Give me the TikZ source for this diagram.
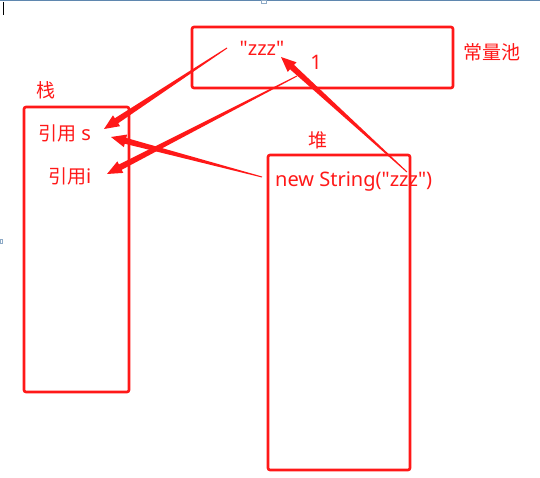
\documentclass[tikz,border=0pt]{standalone}
\usepackage{fontspec}
\setmainfont{Noto Sans}[Ligatures=TeXOff]
\newfontfamily\cjk{Noto Sans CJK SC}
\usetikzlibrary{calc}
\definecolor{pr}{RGB}{255,24,24}
\definecolor{frame}{RGB}{95,135,175}
\tikzset{
  box/.style={draw=pr,line width=2.6pt,rounded corners=2pt},
  lbl/.style={text=pr,inner sep=0pt,font=\fontsize{20}{22}\selectfont},
  arr/.style={fill=pr,draw=none}
}
\newcommand{\tarrow}[2]{%
  \coordinate (hb) at ($(#2)!15pt!(#1)$);
  \fill[arr] ($(#1)!0.5pt!90:(#2)$) -- ($(hb)!3pt!90:(#2)$) -- ($(hb)!6.5pt!90:(#2)$) -- (#2)
    -- ($(hb)!6.5pt!-90:(#2)$) -- ($(hb)!3pt!-90:(#2)$) -- ($(#1)!0.5pt!-90:(#2)$) -- cycle;}
\newcommand{\q}{\symbol{34}}
\newcommand{\zh}[1]{{\cjk\fontsize{19}{21}\selectfont #1}}
\begin{document}
\begin{tikzpicture}[x=1pt,y=-1pt]
\useasboundingbox (0,0) rectangle (540,478);
\fill[white] (0,0) rectangle (540,478);
% screen artifacts
\draw[frame,line width=1pt] (0,0.5) -- (540,0.5);
\draw[frame!70,line width=0.6pt,fill=white] (261,0) rectangle (266,3);
\draw[frame!70,line width=0.6pt,fill=white] (0,239) rectangle (2,243);
\draw[black,line width=0.8pt] (3,2) -- (3,15);
% boxes
\draw[box] (192,27) rectangle (453,88);
\draw[box] (24,107) rectangle (129,392);
\draw[box] (268,155) rectangle (410,470);
% labels
\node[lbl] (pool) at (492,52) {\zh{常量池}};
\node[lbl] (stack) at (46,90) {\zh{栈}};
\node[lbl] (heap) at (318,140) {\zh{堆}};
\node[lbl] (zzz) at (262,48) {\q zzz\q};
\node[lbl] (one) at (316,62) {1};
\node[lbl,anchor=west] (refs) at (38,133) {\zh{引用} s};
\node[lbl,anchor=west] (refi) at (48,176) {\zh{引用}i};
\node[lbl,anchor=west] (ns) at (275,182) {new String(\q zzz\q)};
% arrow endpoints
\coordinate (t1) at (227,48);  \coordinate (h1) at (104,129);
\coordinate (t2) at (297,76);  \coordinate (h2) at (107,174);
\coordinate (t3) at (262,177); \coordinate (h3) at (111,137);
\coordinate (t4) at (407,172); \coordinate (h4) at (281,57);
\tarrow{t1}{h1}
\tarrow{t2}{h2}
\tarrow{t3}{h3}
\tarrow{t4}{h4}
\end{tikzpicture}
\end{document}
